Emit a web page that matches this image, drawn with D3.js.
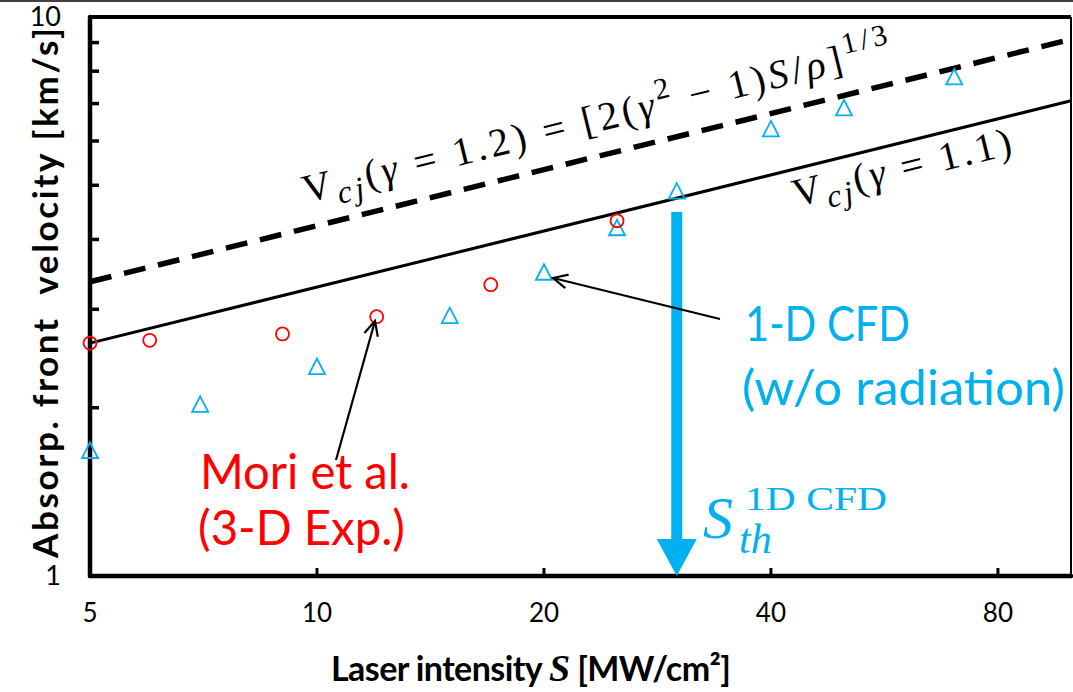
<!DOCTYPE html>
<html><head><meta charset="utf-8">
<script src="https://cdn.jsdelivr.net/npm/d3@7"></script>
<style>body{margin:0;background:#fff}svg{display:block}</style>
</head><body>
<svg id="c" width="1073" height="692"></svg>
<script>
// ---- data ----
const moriS = [5, 6, 9, 12, 17, 25];
const moriV = [2.61, 2.64, 2.71, 2.91, 3.32, 4.32];
const cfdS = [5, 7, 10, 15, 20, 25, 30, 40, 50, 70];
const cfdV = [1.67, 2.02, 2.36, 2.91, 3.48, 4.18, 4.86, 6.28, 6.85, 7.78];
const lineS = [5, 100];
const vcj11 = [2.61, 7.08];
const vcj12 = [3.36, 9.12];
const xTickVals = [5, 10, 20, 40, 80];
const yLabelVals = [1, 10];
const yMinorVals = [2, 3, 4, 5, 6, 7, 8, 9];
const thresholdS = 30;
const thresholdTopV = 4.48;

const svg = d3.select("#c");
const W = 1073, H = 692;
const x = d3.scaleLog().domain([5, 100]).range([90, 1071]);
const y = d3.scaleLog().domain([1, 10]).range([576, 17]);
const blue = "#00B0F0", red = "#FF0000";
const sans = "Lato, 'Open Sans', sans-serif";
const serif = "'Liberation Serif', 'DejaVu Serif', serif";

// top border of image
svg.append("line").attr("x1",0).attr("x2",W).attr("y1",1).attr("y2",1)
  .attr("stroke","#404040").attr("stroke-width",2);

// lines
const lg = d3.line().x(d=>x(d[0])).y(d=>y(d[1]));
svg.append("path").datum(lineS.map((s,i)=>[s,vcj12[i]])).attr("d",lg)
  .attr("fill","none").attr("stroke","#000").attr("stroke-width",5.5).attr("stroke-dasharray","22,13");
svg.append("path").datum(lineS.map((s,i)=>[s,vcj11[i]])).attr("d",lg)
  .attr("fill","none").attr("stroke","#000").attr("stroke-width",3);

// frame
const g = svg.append("g");
g.append("line").attr("x1",x(5)).attr("x2",x(100)).attr("y1",y(10)).attr("y2",y(10)).attr("stroke","#000").attr("stroke-width",4);
g.append("line").attr("x1",x(100)).attr("x2",x(100)).attr("y1",y(10)).attr("y2",y(1)).attr("stroke","#000").attr("stroke-width",2);
g.append("line").attr("x1",x(5)).attr("x2",x(100)).attr("y1",y(1)).attr("y2",y(1)).attr("stroke","#000").attr("stroke-width",4.5).attr("stroke-linecap","round");
g.append("line").attr("x1",x(5)).attr("x2",x(5)).attr("y1",y(10)).attr("y2",y(1)).attr("stroke","#000").attr("stroke-width",4.5).attr("stroke-linecap","round");

// y minor ticks
g.selectAll(".ym").data(yMinorVals).join("line")
  .attr("x1",x(5)).attr("x2",x(5)+9).attr("y1",d=>y(d)).attr("y2",d=>y(d))
  .attr("stroke","#000").attr("stroke-width",3.5);
// x ticks
g.selectAll(".xt").data(xTickVals.slice(1)).join("line")
  .attr("x1",d=>x(d)).attr("x2",d=>x(d)).attr("y1",y(1)).attr("y2",y(1)-8)
  .attr("stroke","#000").attr("stroke-width",3);

// tick labels
svg.selectAll(".xl").data(xTickVals).join("text")
  .attr("x",d=>x(d)).attr("y",622).attr("text-anchor","middle")
  .attr("font-family",sans).attr("font-size",26).attr("fill","#000").text(d=>d);
svg.selectAll(".yl").data(yLabelVals).join("text")
  .attr("x",61).attr("y",d=>y(d)+9).attr("text-anchor","end")
  .attr("font-family",sans).attr("font-size",27).attr("fill","#000").text(d=>d);

// axis titles
svg.append("text").attr("transform","translate(58,293) rotate(-90)")
  .attr("text-anchor","middle").attr("font-family",sans).attr("font-weight","bold")
  .attr("font-size",35).attr("fill","#000").attr("xml:space","preserve")
  .attr("textLength",530).attr("lengthAdjust","spacing")
  .text("Absorp. front  velocity [km/s]");
const xt = svg.append("text").attr("x",531).attr("y",681).attr("text-anchor","middle")
  .attr("font-family",sans).attr("font-weight","bold").attr("font-size",34).attr("fill","#000")
  .attr("xml:space","preserve").attr("textLength",400).attr("lengthAdjust","spacing");
xt.append("tspan").text("Laser intensity ");
xt.append("tspan").attr("font-family",serif).attr("font-style","italic").attr("font-size",38).text("S");
xt.append("tspan").text(" [MW/cm²]");

// threshold arrow
const tx = x(thresholdS);
svg.append("rect").attr("x",tx-5.5).attr("width",11).attr("y",y(thresholdTopV)).attr("height",y(1)-36-y(thresholdTopV)).attr("fill",blue);
svg.append("path").attr("d",`M${tx-20},${y(1)-37} L${tx+20},${y(1)-37} L${tx},${y(1)} Z`).attr("fill",blue);

// markers
svg.selectAll(".cfd").data(cfdS.map((s,i)=>[s,cfdV[i]])).join("path")
  .attr("transform",d=>`translate(${x(d[0])},${y(d[1])})`)
  .attr("d","M0,-9 L8,6.5 L-8,6.5 Z").attr("fill","none").attr("stroke",blue).attr("stroke-width",1.8);
svg.selectAll(".mori").data(moriS.map((s,i)=>[s,moriV[i]])).join("circle")
  .attr("cx",d=>x(d[0])).attr("cy",d=>y(d[1])).attr("r",6.5)
  .attr("fill","none").attr("stroke",red).attr("stroke-width",1.8);

// annotation arrows
function arrow(x1,y1,x2,y2){
  svg.append("line").attr("x1",x1).attr("y1",y1).attr("x2",x2).attr("y2",y2).attr("stroke","#000").attr("stroke-width",2.2);
  const a=Math.atan2(y2-y1,x2-x1), L=16, s=0.45;
  const p=`M${x2-L*Math.cos(a-s)},${y2-L*Math.sin(a-s)} L${x2},${y2} L${x2-L*Math.cos(a+s)},${y2-L*Math.sin(a+s)}`;
  svg.append("path").attr("d",p).attr("fill","none").attr("stroke","#000").attr("stroke-width",2.2);
}
arrow(336,460,375,321);
arrow(720,319,553,278);

// labels
function lab(t,x0,y0,col,len){
  const e=svg.append("text").attr("x",x0).attr("y",y0).attr("font-family",sans)
    .attr("font-size",48).attr("fill",col).text(t);
  if(len) e.attr("textLength",len).attr("lengthAdjust","spacingAndGlyphs");
}
lab("Mori et al.",200,489,red,210);
lab("(3-D Exp.)",198,545,red,207);
lab("1-D CFD",745,341,blue,165);
lab("(w/o radiation)",742,405,blue,323);

svg.append("text").attr("x",703).attr("y",538).attr("font-family",serif).attr("font-style","italic")
  .attr("fill",blue).attr("font-size",60).text("S");
svg.append("text").attr("x",745).attr("y",510).attr("font-family",serif).attr("fill",blue)
  .attr("font-size",34).attr("textLength",142).attr("lengthAdjust","spacingAndGlyphs").text("1D CFD");
svg.append("text").attr("x",739).attr("y",553).attr("font-family",serif).attr("font-style","italic")
  .attr("fill",blue).attr("font-size",42).text("th");

// equations
function eq(tr, parts, len){
  const t = svg.append("text").attr("transform",tr).attr("font-family",serif).attr("font-size",40).attr("fill","#000").attr("xml:space","preserve");
  parts.forEach(p=>{
    const s=t.append("tspan").text(p[0]);
    if(p[1]==="i") s.attr("font-style","italic");
    if(p[1]==="sub") s.attr("font-style","italic").attr("font-size",32).attr("dy",9);
    if(p[1]==="back") s.attr("dy",-9);
    if(p[1]==="sup") s.attr("font-size",30).attr("dy",-17);
    if(p[1]==="supback") s.attr("dy",17);
  });
  if(len) t.attr("textLength",len).attr("lengthAdjust","spacing");
}
eq("translate(306,203) rotate(-13.7)", [["V"],["cj","sub"],["(","back"],["γ","i"],[" = 1.2) = [2("],["γ","i"],["2","sup"],[" − 1)","supback"],["S","i"],["/"],["ρ","i"],["]"],["1/3","sup"]], 604);
eq("translate(796,207) rotate(-13.7)", [["V"],["cj","sub"],["(","back"],["γ","i"],[" = 1.1)"]], 224);
</script>
</body></html>
